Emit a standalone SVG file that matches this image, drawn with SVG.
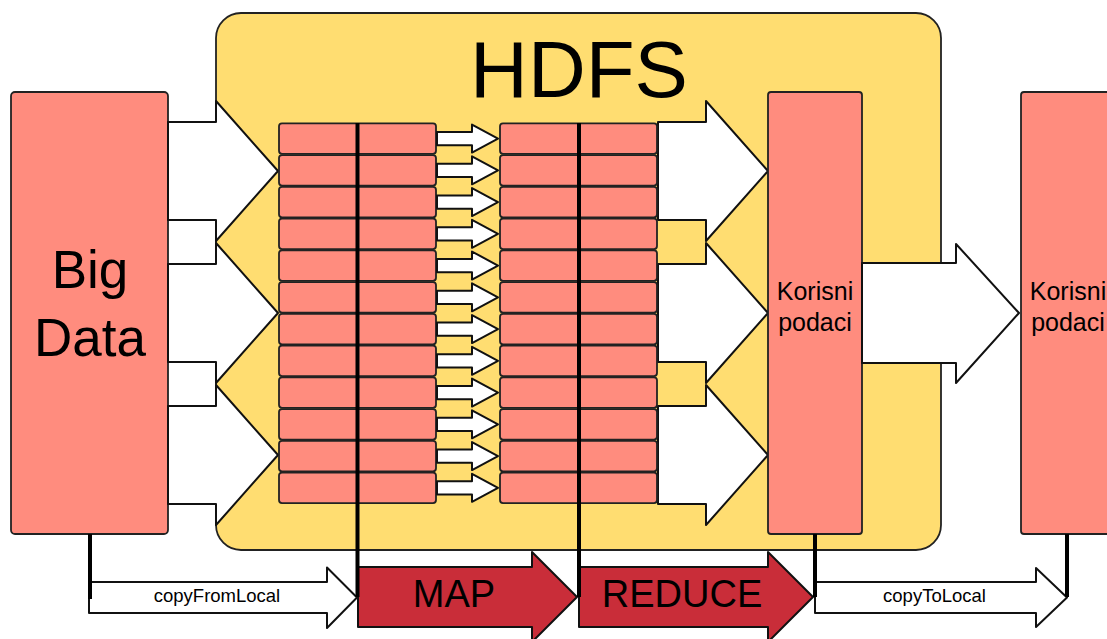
<svg xmlns="http://www.w3.org/2000/svg" width="1107" height="639" viewBox="0 0 1107 639">
<style>
.hdfs{fill:#FFDD71;stroke:#222;stroke-width:1.8}
.pink{fill:#FF8C7E;stroke:#222;stroke-width:1.8}
.arr{fill:#fff;stroke:#111;stroke-width:2;stroke-linejoin:round}
.red{fill:#C92D39;stroke:#111;stroke-width:2;stroke-linejoin:round}
.line{stroke:#000;stroke-width:4;fill:none}
text{font-family:"Liberation Sans",Arial,sans-serif;fill:#000;text-anchor:middle}
</style>
<defs>
<path id="sa" d="M0 -6.6 L35 -6.6 L35 -14 L61 0 L35 14 L35 6.6 L0 6.6 Z"/>
</defs>
<rect width="1107" height="639" fill="#fff"/>
<g id="hdfs">
<rect class="hdfs" x="216" y="13" width="725" height="537" rx="25"/>
<text x="579" y="97" font-size="80">HDFS</text>
</g>
<g id="bigdata">
<rect class="pink" x="11" y="92" width="157" height="442" rx="4"/>
<text x="90" y="288" font-size="53">Big</text>
<text x="90" y="356" font-size="53">Data</text>
</g>
<g id="input-arrows">
<path class="arr" d="M168 122 L216 122 L216 101 L278 171 L216 241 L216 220 L168 220 Z"/>
<path class="arr" d="M168 264 L216 264 L216 243 L278 313 L216 383 L216 362 L168 362 Z"/>
<path class="arr" d="M168 406 L216 406 L216 385 L278 455 L216 525 L216 504 L168 504 Z"/>
</g>
<g id="reduce-arrows">
<path class="arr" d="M658 122 L706 122 L706 101 L768 171 L706 241 L706 220 L658 220 Z"/>
<path class="arr" d="M658 264 L706 264 L706 243 L768 313 L706 383 L706 362 L658 362 Z"/>
<path class="arr" d="M658 406 L706 406 L706 385 L768 455 L706 525 L706 504 L658 504 Z"/>
</g>
<g id="map-blocks">
<rect class="pink" x="279" y="123.3" width="157" height="30.5" rx="3"/>
<rect class="pink" x="279" y="155.05" width="157" height="30.5" rx="3"/>
<rect class="pink" x="279" y="186.8" width="157" height="30.5" rx="3"/>
<rect class="pink" x="279" y="218.55" width="157" height="30.5" rx="3"/>
<rect class="pink" x="279" y="250.3" width="157" height="30.5" rx="3"/>
<rect class="pink" x="279" y="282.05" width="157" height="30.5" rx="3"/>
<rect class="pink" x="279" y="313.8" width="157" height="30.5" rx="3"/>
<rect class="pink" x="279" y="345.55" width="157" height="30.5" rx="3"/>
<rect class="pink" x="279" y="377.3" width="157" height="30.5" rx="3"/>
<rect class="pink" x="279" y="409.05" width="157" height="30.5" rx="3"/>
<rect class="pink" x="279" y="440.8" width="157" height="30.5" rx="3"/>
<rect class="pink" x="279" y="472.55" width="157" height="30.5" rx="3"/>
</g>
<g id="shuffle-arrows" class="arr">
<use href="#sa" x="437" y="138.55"/>
<use href="#sa" x="437" y="170.3"/>
<use href="#sa" x="437" y="202.05"/>
<use href="#sa" x="437" y="233.8"/>
<use href="#sa" x="437" y="265.55"/>
<use href="#sa" x="437" y="297.3"/>
<use href="#sa" x="437" y="329.05"/>
<use href="#sa" x="437" y="360.8"/>
<use href="#sa" x="437" y="392.55"/>
<use href="#sa" x="437" y="424.3"/>
<use href="#sa" x="437" y="456.05"/>
<use href="#sa" x="437" y="487.8"/>
</g>
<g id="reduce-blocks">
<rect class="pink" x="500" y="123.3" width="157" height="30.5" rx="3"/>
<rect class="pink" x="500" y="155.05" width="157" height="30.5" rx="3"/>
<rect class="pink" x="500" y="186.8" width="157" height="30.5" rx="3"/>
<rect class="pink" x="500" y="218.55" width="157" height="30.5" rx="3"/>
<rect class="pink" x="500" y="250.3" width="157" height="30.5" rx="3"/>
<rect class="pink" x="500" y="282.05" width="157" height="30.5" rx="3"/>
<rect class="pink" x="500" y="313.8" width="157" height="30.5" rx="3"/>
<rect class="pink" x="500" y="345.55" width="157" height="30.5" rx="3"/>
<rect class="pink" x="500" y="377.3" width="157" height="30.5" rx="3"/>
<rect class="pink" x="500" y="409.05" width="157" height="30.5" rx="3"/>
<rect class="pink" x="500" y="440.8" width="157" height="30.5" rx="3"/>
<rect class="pink" x="500" y="472.55" width="157" height="30.5" rx="3"/>
</g>
<g id="korisni-hdfs">
<rect class="pink" x="768" y="92" width="94" height="442" rx="3"/>
<text x="815" y="300" font-size="25">Korisni</text>
<text x="815" y="331" font-size="25">podaci</text>
</g>
<g id="out-arrow">
<path class="arr" d="M862 263 L956 263 L956 244 L1019 313 L956 383 L956 363 L862 363 Z"/>
</g>
<g id="korisni-local">
<rect class="pink" x="1021" y="92" width="94" height="442" rx="3"/>
<text x="1068" y="300" font-size="25">Korisni</text>
<text x="1068" y="331" font-size="25">podaci</text>
</g>
<g id="copyFromLocal">
<path class="arr" d="M89 582 L327 582 L327 567.5 L357 597.5 L327 628 L327 613 L89 613 Z"/>
<text x="217" y="601.5" font-size="18.5">copyFromLocal</text>
</g>
<g id="map">
<path class="red" d="M358 567 L532 567 L532 552 L577 597 L532 642 L532 627 L358 627 Z"/>
<text x="454" y="607" font-size="38">MAP</text>
</g>
<g id="reduce">
<path class="red" d="M579 567 L768 567 L768 552 L813 597 L768 642 L768 627 L579 627 Z"/>
<text x="682" y="607" font-size="38">REDUCE</text>
</g>
<g id="copyToLocal">
<path class="arr" d="M815 582 L1036 582 L1036 568 L1067 597.5 L1036 627 L1036 613 L815 613 Z"/>
<text x="934.5" y="601.5" font-size="18.5">copyToLocal</text>
</g>
<g id="connectors" class="line">
<line x1="357.5" y1="123" x2="357.5" y2="597"/>
<line x1="579" y1="123" x2="579" y2="597"/>
<line x1="90" y1="534" x2="90" y2="599"/>
<line x1="815" y1="534" x2="815" y2="597"/>
<line x1="1067" y1="534" x2="1067" y2="597"/>
</g>
</svg>
